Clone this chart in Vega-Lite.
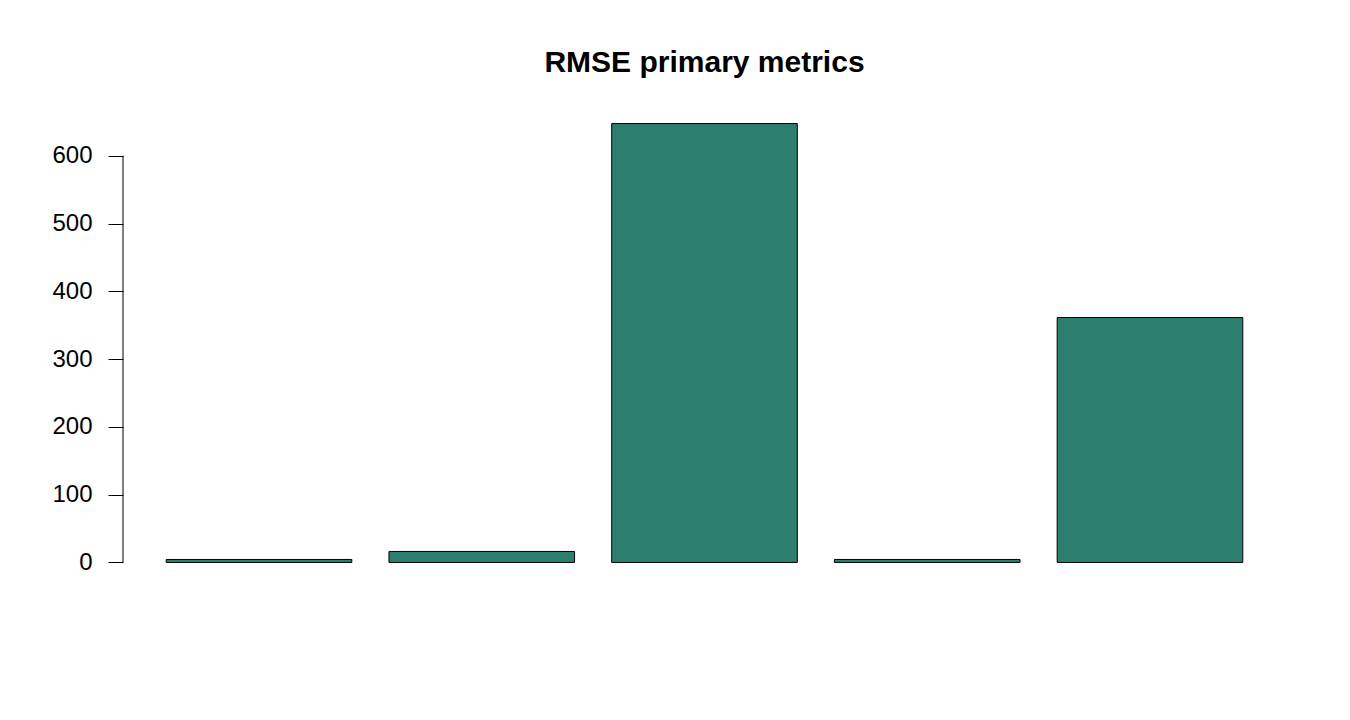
{
  "$schema": "https://vega.github.io/schema/vega-lite/v6.json",
  "autosize": "none",
  "width": 1163,
  "height": 474,
  "padding": {"left": 123, "top": 106, "right": 64, "bottom": 140},
  "background": "white",
  "config": {"view": {"stroke": null}, "font": "Liberation Sans"},
  "title": {
    "text": "RMSE primary metrics",
    "font": "Liberation Sans",
    "fontSize": 30,
    "fontWeight": "bold",
    "color": "black",
    "anchor": "middle",
    "baseline": "alphabetic",
    "offset": 4
  },
  "data": {
    "values": [
      {"metric": "M1", "rmse": 4.4},
      {"metric": "M2", "rmse": 16.2},
      {"metric": "M3", "rmse": 647.5},
      {"metric": "M4", "rmse": 4.4},
      {"metric": "M5", "rmse": 361.3}
    ]
  },
  "layer": [
    {
      "mark": {"type": "bar", "fill": "#2c7f6e", "stroke": "black", "strokeWidth": 1},
      "encoding": {
        "x": {
          "field": "metric",
          "type": "nominal",
          "sort": null,
          "axis": null,
          "scale": {"paddingInner": 0.1667, "paddingOuter": 0.194}
        },
        "y": {
          "field": "rmse",
          "type": "quantitative",
          "scale": {"domain": [-25.9, 673.4], "nice": false, "zero": false},
          "axis": {
            "title": null,
            "values": [0, 100, 200, 300, 400, 500, 600],
            "domain": false,
            "grid": false,
            "ticks": true,
            "tickSize": 15,
            "tickColor": "black",
            "tickWidth": 1,
            "labelFont": "Liberation Sans",
            "labelFontSize": 24,
            "labelColor": "black",
            "labelPadding": 16
          }
        }
      }
    },
    {
      "data": {"values": [{"lo": 0, "hi": 600, "edge": 0}]},
      "mark": {"type": "rule", "color": "black", "strokeWidth": 1},
      "encoding": {
        "x": {"field": "edge", "type": "quantitative", "scale": {"domain": [0, 1]}, "axis": null},
        "y": {"field": "lo", "type": "quantitative"},
        "y2": {"field": "hi"}
      }
    }
  ],
  "resolve": {"scale": {"x": "independent"}}
}
